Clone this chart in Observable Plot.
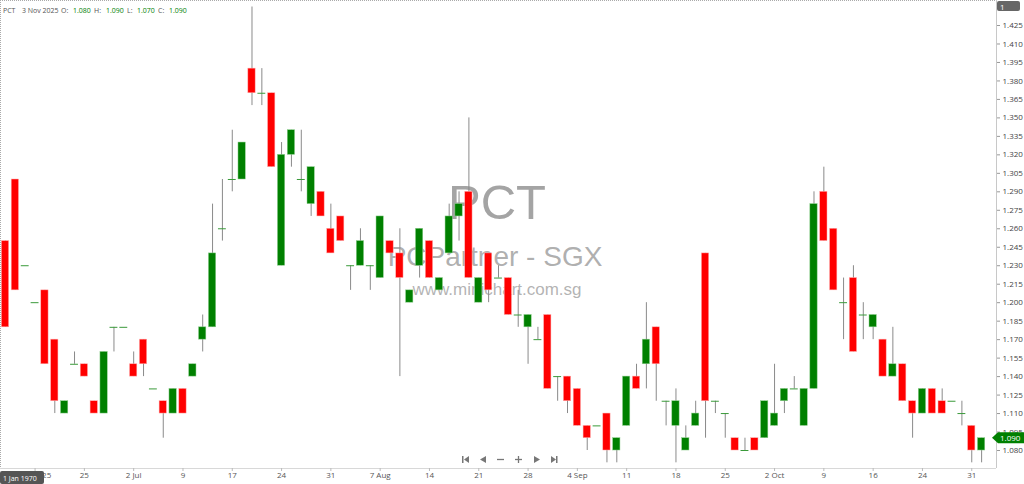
<!DOCTYPE html>
<html>
<head>
<meta charset="utf-8">
<script src="https://cdn.jsdelivr.net/npm/d3@7"></script>
<script src="https://cdn.jsdelivr.net/npm/@observablehq/plot@0.6"></script>
<style>
  html, body { margin: 0; padding: 0; background: #fff; }
  #chart { position: relative; width: 1024px; height: 484px; overflow: hidden; }
  svg { font-family: "Open Sans", "DejaVu Sans", sans-serif; }
</style>
</head>
<body>
<div id="chart"></div>
<script>
// ---- Data (daily candles, 13 Jun 2025 - 3 Nov 2025) ----
const opens  = [1.25,1.30,1.23,1.20,1.21,1.17,1.11,1.15,1.15,1.12,1.11,1.18,1.18,1.15,1.17,1.13,1.12,1.11,1.13,1.14,
                1.17,1.18,1.26,1.30,1.30,1.39,1.37,1.37,1.23,1.32,1.30,1.28,1.29,1.26,1.27,1.23,1.23,1.23,1.22,1.25,
                1.24,1.20,1.23,1.25,1.21,1.24,1.27,1.29,1.20,1.24,1.22,1.22,1.19,1.18,1.17,1.19,1.14,1.14,1.13,1.10,
                1.10,1.11,1.08,1.10,1.14,1.15,1.18,1.12,1.10,1.08,1.10,1.24,1.12,1.11,1.09,1.08,1.09,1.09,1.10,1.12,
                1.13,1.10,1.13,1.29,1.26,1.20,1.22,1.19,1.18,1.17,1.14,1.15,1.12,1.11,1.13,1.12,1.12,1.11,1.10,1.08];
const highs  = [1.25,1.30,1.23,1.20,1.21,1.17,1.12,1.16,1.15,1.12,1.16,1.18,1.18,1.16,1.17,1.13,1.12,1.13,1.13,1.15,
                1.19,1.28,1.30,1.34,1.33,1.44,1.39,1.37,1.33,1.34,1.34,1.31,1.29,1.28,1.27,1.23,1.26,1.23,1.27,1.25,
                1.26,1.21,1.26,1.25,1.22,1.28,1.29,1.35,1.22,1.24,1.23,1.22,1.21,1.19,1.18,1.19,1.14,1.14,1.13,1.10,
                1.10,1.11,1.09,1.14,1.15,1.20,1.18,1.12,1.13,1.10,1.12,1.24,1.12,1.11,1.09,1.09,1.09,1.12,1.15,1.13,
                1.14,1.13,1.29,1.31,1.26,1.22,1.23,1.20,1.19,1.17,1.18,1.15,1.12,1.13,1.13,1.13,1.12,1.12,1.10,1.09];
const lows   = [1.18,1.21,1.23,1.20,1.15,1.11,1.11,1.15,1.14,1.11,1.11,1.16,1.18,1.14,1.14,1.13,1.09,1.11,1.11,1.14,
                1.16,1.18,1.25,1.29,1.30,1.36,1.36,1.31,1.23,1.31,1.29,1.27,1.27,1.24,1.25,1.21,1.23,1.21,1.22,1.24,
                1.14,1.20,1.22,1.22,1.21,1.24,1.25,1.22,1.20,1.20,1.22,1.19,1.18,1.15,1.17,1.13,1.12,1.11,1.10,1.08,
                1.10,1.07,1.07,1.10,1.13,1.13,1.12,1.10,1.07,1.08,1.10,1.09,1.11,1.09,1.08,1.08,1.08,1.09,1.10,1.11,
                1.13,1.10,1.13,1.25,1.21,1.17,1.16,1.17,1.17,1.14,1.14,1.12,1.09,1.11,1.11,1.11,1.12,1.10,1.07,1.07];
const closes = [1.18,1.21,1.23,1.20,1.15,1.12,1.12,1.15,1.14,1.11,1.16,1.18,1.18,1.14,1.15,1.13,1.11,1.13,1.11,1.15,
                1.18,1.24,1.26,1.30,1.33,1.37,1.37,1.31,1.32,1.34,1.30,1.31,1.27,1.24,1.25,1.23,1.25,1.23,1.27,1.24,
                1.22,1.21,1.26,1.22,1.22,1.27,1.28,1.22,1.22,1.21,1.22,1.19,1.19,1.19,1.17,1.13,1.14,1.12,1.10,1.09,
                1.10,1.08,1.09,1.14,1.13,1.17,1.15,1.12,1.12,1.09,1.11,1.12,1.12,1.11,1.08,1.08,1.08,1.12,1.11,1.13,
                1.13,1.13,1.28,1.25,1.21,1.20,1.16,1.19,1.19,1.14,1.15,1.12,1.11,1.13,1.11,1.11,1.12,1.11,1.08,1.09];

// date-axis labels (every 5th bar)
const dateTickIndex  = [3, 8, 13, 18, 23, 28, 33, 38, 43, 48, 53, 58, 63, 68, 73, 78, 83, 88, 93, 98];
const dateTickLabels = ["Jun 2025","25","2 Jul","9","17","24","31","7 Aug","14","21","28","4 Sep","11","18","25","2 Oct","9","16","24","31"];
// price-axis ticks
const priceTicks = [1.425,1.410,1.395,1.380,1.365,1.350,1.335,1.320,1.305,1.290,1.275,1.260,1.245,1.230,
                    1.215,1.200,1.185,1.170,1.155,1.140,1.125,1.110,1.095,1.080];

const symbol = "PCT";
const fullName = "PCPartner - SGX";
const site = "www.minichart.com.sg";
const lastDate = "3 Nov 2025";

// ---- build table ----
const bars = opens.map((o, i) => ({i, o, h: highs[i], l: lows[i], c: closes[i]}));
const bodies = bars.filter(d => d.o !== d.c);
const dojis = bars.filter(d => d.o === d.c);
const last = bars[bars.length - 1];

const GREEN = "#008000", RED = "#ff0000";
const W = 1024, H = 484;

const plot = Plot.plot({
  width: W,
  height: H,
  marginLeft: 0,
  marginRight: 28,
  marginTop: 0,
  marginBottom: 16,
  style: {fontSize: "8px", color: "#444", background: "#fff"},
  x: {domain: [-0.507, 100.51], axis: null, label: null},
  y: {domain: [1.0654, 1.4453], axis: null, label: null},
  marks: [
    Plot.ruleX([100.51], {stroke: "#c8c8c8"}),
    Plot.ruleY([1.0654], {stroke: "#d8d8d8"}),
    // wicks
    Plot.ruleX(bars.filter(d => d.h !== d.l), {x: "i", y1: "l", y2: "h", stroke: "#8a8a8a", strokeWidth: 1}),
    // bodies
    Plot.rect(bodies, {
      x1: d => d.i - 0.37, x2: d => d.i + 0.37, y1: "o", y2: "c",
      fill: d => d.c > d.o ? GREEN : RED, stroke: d => d.c > d.o ? "#8fcf8f" : "#ffb0b0", strokeWidth: 0.5
    }),
    // doji dashes
    Plot.ruleY(dojis, {y: "o", x1: d => d.i - 0.4, x2: d => d.i + 0.4, stroke: "#3a9a3a", strokeWidth: 1}),
    // price axis
    Plot.axisY(priceTicks, {anchor: "right", tickSize: 3, tickPadding: 3, stroke: "#999", label: null,
      tickFormat: d => d.toFixed(3), fill: "#444", fontSize: 8}),
    // date axis
    Plot.axisX(dateTickIndex, {anchor: "bottom", tickSize: 3, tickPadding: 1, stroke: "#bbb", label: null,
      tickFormat: (d, k) => dateTickLabels[k], fill: "#555", fontSize: 8})
  ]
});

document.getElementById("chart").appendChild(plot);

const svg = d3.select(plot);
const ys = plot.scale("y");

// dotted frame top & left
svg.append("line").attr("x1", 0).attr("x2", 996).attr("y1", 0.5).attr("y2", 0.5)
  .attr("stroke", "#aaa").attr("stroke-dasharray", "1,1");
svg.append("line").attr("x1", 0.5).attr("x2", 0.5).attr("y1", 0).attr("y2", 468)
  .attr("stroke", "#aaa").attr("stroke-dasharray", "1,1");

// watermark
const wm = svg.insert("g", ":first-child").attr("fill", "#9a9a9a").attr("text-anchor", "middle")
  .attr("font-family", "Liberation Sans, Arial, sans-serif");
wm.append("text").attr("x", 497).attr("y", 219).attr("font-size", 49).attr("fill-opacity", 0.9).text(symbol);
wm.append("text").attr("x", 495).attr("y", 266).attr("font-size", 28).attr("fill-opacity", 0.8).text(fullName);
wm.append("text").attr("x", 497).attr("y", 295).attr("font-size", 17).attr("fill-opacity", 0.75).text(site);

// header
const hdr = svg.append("g").attr("font-size", 7).attr("text-anchor", "start")
  .attr("font-family", "Open Sans, DejaVu Sans, sans-serif");
const f = v => v.toFixed(3);
const parts = [
  [3, symbol, "#555"], [22, lastDate, "#555"],
  [61, "O:", "#555"], [73, f(last.o), GREEN],
  [94, "H:", "#555"], [106, f(last.h), GREEN],
  [127, "L:", "#555"], [137, f(last.l), GREEN],
  [158, "C:", "#555"], [169, f(last.c), GREEN]
];
parts.forEach(([x, t, col]) => hdr.append("text").attr("x", x).attr("y", 13).attr("fill", col).text(t));

const misc = svg.append("g").attr("text-anchor", "start").attr("font-family", "Open Sans, DejaVu Sans, sans-serif");
// top-right "1" box
misc.append("rect").attr("x", 997).attr("y", 1).attr("width", 23).attr("height", 10).attr("rx", 2).attr("fill", "#666");
misc.append("text").attr("x", 1000).attr("y", 9.5).attr("font-size", 8).attr("fill", "#fff").text("1");

// last price tag
const ty = ys.apply(last.c);
misc.append("path").attr("d", `M992,${ty} L998,${ty-5.5} L1024,${ty-5.5} L1024,${ty+5.5} L998,${ty+5.5} Z`).attr("fill", GREEN);
misc.append("text").attr("x", 1000).attr("y", ty + 3).attr("font-size", 8).attr("fill", "#fff").text(f(last.c));

// bottom-left date box
misc.append("rect").attr("x", 0).attr("y", 471).attr("width", 44).attr("height", 13).attr("rx", 2).attr("fill", "#555");
misc.append("text").attr("x", 3).attr("y", 480.5).attr("font-size", 7).attr("fill", "#fff").text("1 Jan 1970");

// navigation buttons
const nav = svg.append("g").attr("fill", "#777").attr("stroke", "#777");
nav.append("rect").attr("x", 462).attr("y", 456).attr("width", 1.5).attr("height", 7).attr("stroke", "none");
nav.append("path").attr("d", "M464,459.5 L469,456 L469,463 Z").attr("stroke", "none");
nav.append("path").attr("d", "M480,459.5 L486,456 L486,463 Z").attr("stroke", "none");
nav.append("line").attr("x1", 497).attr("x2", 504).attr("y1", 459.5).attr("y2", 459.5).attr("stroke-width", 1.3);
nav.append("line").attr("x1", 515).attr("x2", 522).attr("y1", 459.5).attr("y2", 459.5).attr("stroke-width", 1.3);
nav.append("line").attr("x1", 518.5).attr("x2", 518.5).attr("y1", 456).attr("y2", 463).attr("stroke-width", 1.3);
nav.append("path").attr("d", "M534,456 L540,459.5 L534,463 Z").attr("stroke", "none");
nav.append("path").attr("d", "M551,456 L556,459.5 L551,463 Z").attr("stroke", "none");
nav.append("rect").attr("x", 556).attr("y", 456).attr("width", 1.5).attr("height", 7).attr("stroke", "none");
</script>
</body>
</html>
